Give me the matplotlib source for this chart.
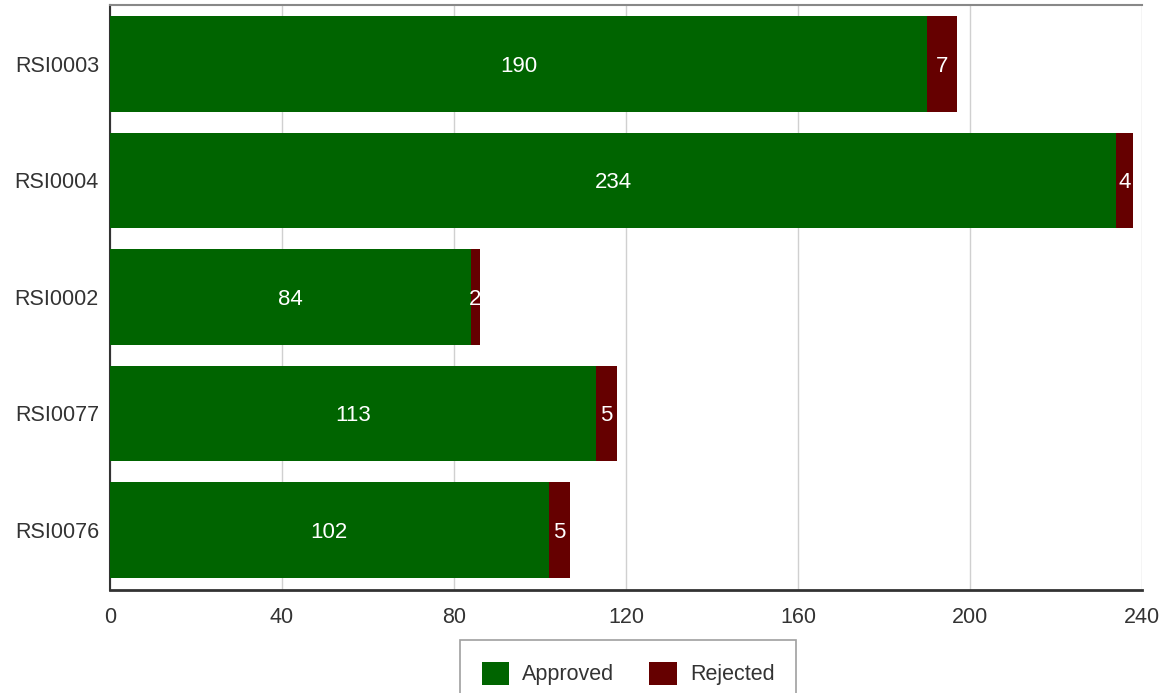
import numpy as np
import matplotlib.pyplot as plt

plt.rcParams['font.family'] = ['Liberation Sans', 'DejaVu Sans']

categories = ['RSI0003', 'RSI0004', 'RSI0002', 'RSI0077', 'RSI0076']
approved = [190, 234, 84, 113, 102]
rejected = [7, 4, 2, 5, 5]
xticks = [0, 40, 80, 120, 160, 200, 240]

green = '#006400'
red = '#650000'

fig = plt.figure(figsize=(11.68, 6.93), dpi=100)
ax = fig.add_axes([110 / 1168, 1 - 590 / 693, (1142 - 110) / 1168, (590 - 5) / 693])

y = np.arange(len(categories))
b1 = ax.barh(y, approved, height=0.82, color=green, label='Approved', zorder=3)
b2 = ax.barh(y, rejected, left=approved, height=0.82, color=red, label='Rejected', zorder=3)

for i in range(len(categories)):
    ax.text(approved[i] / 2, y[i], str(approved[i]), color='white',
            ha='center', va='center_baseline', fontsize=16, zorder=4)
    ax.text(approved[i] + rejected[i] / 2, y[i], str(rejected[i]), color='white',
            ha='center', va='center_baseline', fontsize=16, zorder=4)

ax.set_xlim(0, 240)
ax.set_ylim(4.515, -0.506)
ax.set_yticks(y)
ax.set_yticklabels(categories, fontsize=15.5, color='#333333')
ax.set_xticks(xticks)
ax.set_xticklabels([str(t) for t in xticks], fontsize=15.5, color='#333333')
ax.tick_params(length=0, pad=8)
ax.tick_params(axis='x', pad=12)
ax.grid(axis='x', color='#d0d0d0', linewidth=1, zorder=0)

ax.spines['right'].set_visible(False)
ax.spines['top'].set_color('#888888')
ax.spines['top'].set_linewidth(1.5)
ax.spines['left'].set_color('#333333')
ax.spines['left'].set_linewidth(1.5)
ax.spines['bottom'].set_color('#333333')
ax.spines['bottom'].set_linewidth(2)

leg = fig.legend(handles=[b1, b2], loc='upper center', bbox_to_anchor=(628 / 1168, 1 - 640 / 693),
                 ncol=2, frameon=True, fancybox=False, fontsize=15.5, handlelength=1.3,
                 handleheight=1.3, borderpad=1.0, columnspacing=1.6, handletextpad=0.6,
                 borderaxespad=0)
leg.get_frame().set_edgecolor('#888888')
leg.get_frame().set_linewidth(1.2)
for t in leg.get_texts():
    t.set_color('#333333')

fig.savefig('out.png', dpi=100)
